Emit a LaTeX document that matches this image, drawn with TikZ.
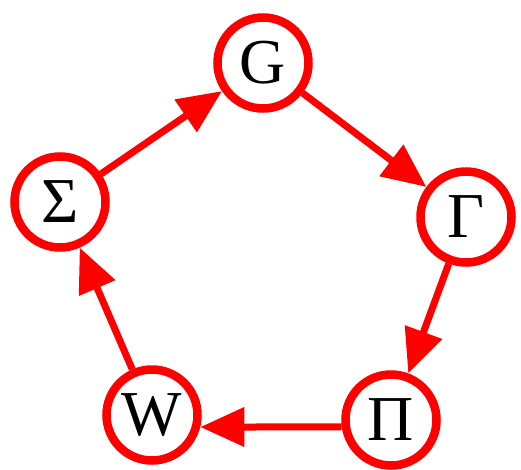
\documentclass[tikz,border=0pt]{standalone}
\usepackage{fontspec}
\setmainfont{Liberation Serif}
\usepackage{tikz}
\definecolor{nodered}{RGB}{255,0,0}
\usetikzlibrary{arrows.meta}

\begin{document}
\begin{tikzpicture}[x=1pt, y=-1pt,
	state/.style={circle, draw=nodered, line width=8.5pt, fill=white, minimum size=91pt, inner sep=0pt, font=\fontsize{64}{72}\selectfont},
	link/.style={draw=nodered, line width=7pt, -{Triangle[length=44pt, width=38pt]}}]
	\useasboundingbox (0,0) rectangle (521,469);
	\node[state] (G) at (263,63) {G};
	\node[state] (Gamma) at (466,217) {Γ};
	\node[state] (Pi) at (391,420) {Π};
	\node[state] (W) at (152,415) {W};
	\node[state] (Sigma) at (60,202) {Σ};
	\path[link] (Sigma) -- (G);
	\path[link] (G) -- (Gamma);
	\path[link] (Gamma) -- (Pi);
	\path[link] (Pi.188) -- (W.-14);
	\path[link] (W) -- (Sigma);
\end{tikzpicture}
\end{document}
